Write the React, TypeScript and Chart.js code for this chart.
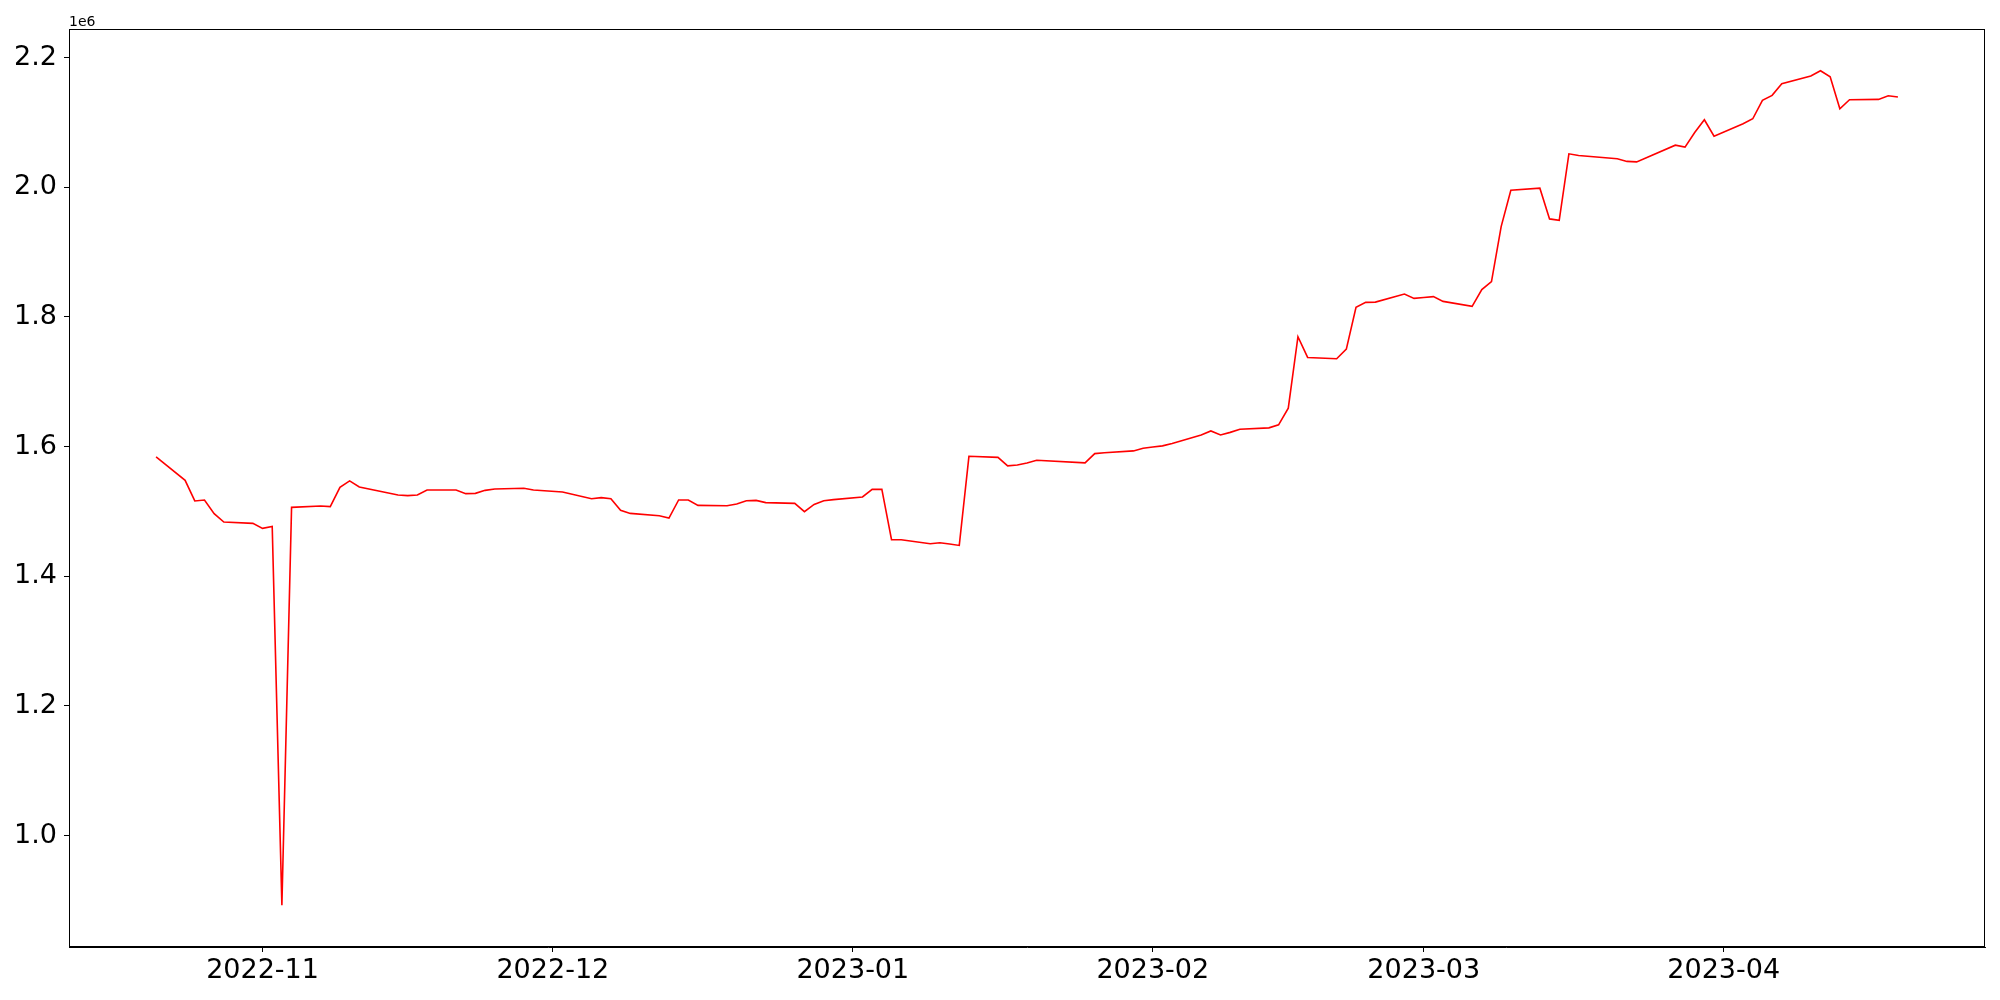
import React, { useEffect, useRef } from "react";
import { Chart, registerables } from "chart.js";

Chart.register(...registerables);

const dates: string[] = [
  "2022-10-21", "2022-10-24", "2022-10-25", "2022-10-26", "2022-10-27", "2022-10-28", "2022-10-31",
  "2022-11-01", "2022-11-02", "2022-11-03", "2022-11-04", "2022-11-07", "2022-11-08", "2022-11-09",
  "2022-11-10", "2022-11-11", "2022-11-15", "2022-11-16", "2022-11-17", "2022-11-18", "2022-11-21",
  "2022-11-22", "2022-11-23", "2022-11-24", "2022-11-25", "2022-11-28", "2022-11-29", "2022-12-02",
  "2022-12-05", "2022-12-06", "2022-12-07", "2022-12-08", "2022-12-09", "2022-12-12", "2022-12-13",
  "2022-12-14", "2022-12-15", "2022-12-16", "2022-12-19", "2022-12-20", "2022-12-21", "2022-12-22",
  "2022-12-23", "2022-12-26", "2022-12-27", "2022-12-28", "2022-12-29", "2022-12-30", "2023-01-02",
  "2023-01-03", "2023-01-04", "2023-01-05", "2023-01-06", "2023-01-09", "2023-01-10", "2023-01-11",
  "2023-01-12", "2023-01-13", "2023-01-16", "2023-01-17", "2023-01-18", "2023-01-19", "2023-01-20",
  "2023-01-25", "2023-01-26", "2023-01-27", "2023-01-30", "2023-01-31", "2023-02-01", "2023-02-02",
  "2023-02-03", "2023-02-06", "2023-02-07", "2023-02-08", "2023-02-09", "2023-02-10", "2023-02-13",
  "2023-02-14", "2023-02-15", "2023-02-16", "2023-02-17", "2023-02-20", "2023-02-21", "2023-02-22",
  "2023-02-23", "2023-02-24", "2023-02-27", "2023-02-28", "2023-03-01", "2023-03-02", "2023-03-03",
  "2023-03-06", "2023-03-07", "2023-03-08", "2023-03-09", "2023-03-10", "2023-03-13", "2023-03-14",
  "2023-03-15", "2023-03-16", "2023-03-17", "2023-03-21", "2023-03-22", "2023-03-23", "2023-03-27",
  "2023-03-28", "2023-03-29", "2023-03-30", "2023-03-31", "2023-04-03", "2023-04-04", "2023-04-05",
  "2023-04-06", "2023-04-07", "2023-04-10", "2023-04-11", "2023-04-12", "2023-04-13", "2023-04-14",
  "2023-04-17", "2023-04-18", "2023-04-19",
];

const values: number[] = [
  1584200, 1548000, 1516200, 1517700, 1496600, 1483700, 1481600,
  1473900, 1476900, 892500, 1506300, 1508500, 1507400, 1537200,
  1547100, 1537800, 1525500, 1524400, 1525500, 1533200, 1533200,
  1527500, 1527900, 1532600, 1534700, 1535700, 1533200, 1530100,
  1519700, 1521300, 1519700, 1501700, 1497000, 1493500, 1489900,
  1517700, 1517700, 1509400, 1508900, 1511600, 1516600, 1517100,
  1513600, 1512500, 1499700, 1510900, 1516600, 1518200, 1522400,
  1534100, 1534100, 1456400, 1456400, 1450200, 1451800, 1449700,
  1447600, 1585100, 1583500, 1570300, 1571800, 1574900, 1578900,
  1574900, 1589300, 1590500, 1593400, 1597500, 1599500, 1601200,
  1605000, 1618100, 1624300, 1618100, 1622000, 1626800, 1629000,
  1633600, 1659300, 1769600, 1737600, 1735600, 1750400, 1814800,
  1822600, 1823000, 1835400, 1828700, 1830000, 1831400, 1824100,
  1816400, 1842200, 1854500, 1939500, 1995600, 1998700, 1951300,
  1949200, 2051700, 2049200, 2044000, 2040000, 2039300, 2065100,
  2062000, 2084700, 2104200, 2079000, 2098000, 2105800, 2134200,
  2141900, 2159800, 2171700, 2179900, 2170600, 2121200, 2135100,
  2135700, 2141300, 2139300,
];

const monthTickDates: string[] = ["2022-11-01", "2022-12-01", "2023-01-01", "2023-02-01", "2023-03-01", "2023-04-01"];
const yTickValues: number[] = [1000000, 1200000, 1400000, 1600000, 1800000, 2000000, 2200000];
const offsetLabel = "1e6";

const FONT = "'DejaVu Sans', sans-serif";

function toDay(s: string): number {
  const [y, m, d] = s.split("-").map(Number);
  return Date.UTC(y, m - 1, d) / 86400000;
}

function fmtMonth(day: number): string {
  const dt = new Date(day * 86400000);
  const y = dt.getUTCFullYear();
  const m = String(dt.getUTCMonth() + 1).padStart(2, "0");
  return `${y}-${m}`;
}

export default function App() {
  const ref = useRef<HTMLCanvasElement | null>(null);

  useEffect(() => {
    if (!ref.current) return;
    const pts = dates.map((d, i) => ({ x: toDay(d), y: values[i] }));
    const xs = pts.map((p) => p.x);
    const x0 = Math.min(...xs);
    const x1 = Math.max(...xs);
    const xm = (x1 - x0) * 0.05;
    const v0 = Math.min(...values);
    const v1 = Math.max(...values);
    const ym = (v1 - v0) * 0.05;
    const monthTicks = monthTickDates.map(toDay);

    const framePlugin = {
      id: "frame",
      afterDraw(chart: any) {
        const { ctx, chartArea } = chart;
        ctx.save();
        ctx.strokeStyle = "#000";
        ctx.lineWidth = 1;
        const l = Math.round(chartArea.left) + 0.5;
        const t = Math.round(chartArea.top) + 0.5;
        const r = Math.round(chartArea.right) - 0.5;
        const b = Math.round(chartArea.bottom) - 0.5;
        ctx.strokeRect(l, t, r - l, b - t);
        ctx.fillStyle = "#000";
        ctx.font = `14px ${FONT}`;
        ctx.textAlign = "left";
        ctx.textBaseline = "alphabetic";
        ctx.fillText(offsetLabel, chartArea.left, chartArea.top - 3);
        ctx.restore();
      },
    };

    const chart = new Chart(ref.current, {
      type: "line",
      data: {
        datasets: [
          {
            data: pts,
            borderColor: "#ff0000",
            borderWidth: 1.6,
            pointRadius: 0,
            tension: 0,
            fill: false,
          },
        ],
      },
      options: {
        animation: false,
        responsive: false,
        parsing: false as any,
        layout: { padding: { top: 29, right: 15, left: 0, bottom: 0 } },
        plugins: { legend: { display: false }, tooltip: { enabled: false } },
        scales: {
          x: {
            type: "linear",
            min: x0 - xm,
            max: x1 + xm,
            afterBuildTicks: (axis: any) => {
              axis.ticks = monthTicks.map((v) => ({ value: v }));
            },
            afterFit: (axis: any) => {
              axis.height = 53;
            },
            ticks: {
              callback: (v: any) => fmtMonth(Number(v)),
              font: { family: FONT, size: 27 },
              color: "#000",
              padding: 3,
              maxRotation: 0,
              autoSkip: false,
            },
            grid: { display: true, drawOnChartArea: false, drawTicks: true, tickLength: 5, color: "#000", lineWidth: 1 },
            border: { display: true, color: "#000", width: 1 },
          },
          y: {
            type: "linear",
            min: v0 - ym,
            max: v1 + ym,
            afterBuildTicks: (axis: any) => {
              axis.ticks = yTickValues.map((v) => ({ value: v }));
            },
            afterFit: (axis: any) => {
              axis.width = 69;
            },
            ticks: {
              callback: (v: any) => (Number(v) / 1e6).toFixed(1),
              font: { family: FONT, size: 27 },
              color: "#000",
              padding: 7,
            },
            grid: { display: true, drawOnChartArea: false, drawTicks: true, tickLength: 5, color: "#000", lineWidth: 1 },
            border: { display: true, color: "#000", width: 1 },
          },
        },
      },
      plugins: [framePlugin],
    } as any);

    return () => chart.destroy();
  }, []);

  return (
    <div style={{ position: "absolute", left: 0, top: 0, width: 2000, height: 1000, background: "#fff" }}>
      <canvas ref={ref} width={2000} height={1000} style={{ width: 2000, height: 1000, display: "block" }} />
    </div>
  );
}
